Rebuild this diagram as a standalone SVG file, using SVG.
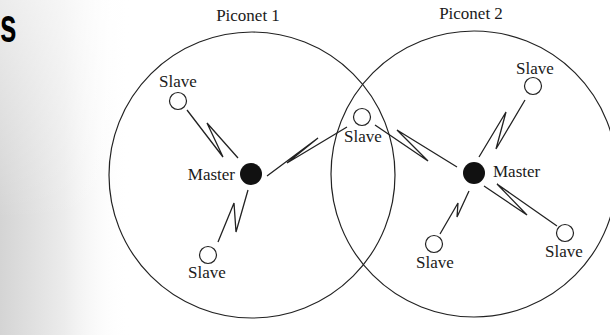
<svg xmlns="http://www.w3.org/2000/svg" width="610" height="335" viewBox="0 0 610 335">
<defs>
<linearGradient id="scan" x1="0" y1="0" x2="1" y2="0">
<stop offset="0" stop-color="#d4d4d4"/>
<stop offset="0.5" stop-color="#ececec"/>
<stop offset="1" stop-color="#ffffff" stop-opacity="0"/>
</linearGradient>
<linearGradient id="scanv" x1="0" y1="0" x2="0" y2="1">
<stop offset="0" stop-color="#ffffff" stop-opacity="0.55"/>
<stop offset="1" stop-color="#ffffff" stop-opacity="0"/>
</linearGradient>
</defs>
<style>
.lbl{font-family:"Liberation Serif","Times New Roman",serif;font-size:17px;fill:#1a1a1a}
.range{fill:none;stroke:#222;stroke-width:1.2}
.slave{fill:#fff;stroke:#222;stroke-width:1.2}
.master{fill:#111}
.link{fill:none;stroke:#222;stroke-width:1.3;stroke-linejoin:miter}
</style>
<rect width="610" height="335" fill="#fff"/>
<rect x="0" y="0" width="130" height="335" fill="url(#scan)"/>
<rect x="0" y="0" width="130" height="220" fill="url(#scanv)"/>
<text x="0" y="42" transform="scale(0.62,1)" font-family="Liberation Sans, Arial, sans-serif" font-weight="bold" font-size="48" fill="#000">s</text>
<g id="piconet1">
<circle class="range" cx="252" cy="175" r="143"/>
<text class="lbl" x="248" y="21" text-anchor="middle">Piconet 1</text>
</g>
<g id="piconet2">
<circle class="range" cx="474" cy="174" r="143"/>
<text class="lbl" x="471" y="19" text-anchor="middle">Piconet 2</text>
</g>
<g id="connectors">
<polyline class="link" points="187,110 223,157 207,123 238,158"/>
<polyline class="link" points="267,176 318,138 287,163 347,127"/>
<polyline class="link" points="375,125 428,161 397,130 457,167"/>
<polyline class="link" points="525,100 496,149 506,112 479,157"/>
<polyline class="link" points="248,190 236,232 234,203 218,242"/>
<polyline class="link" points="469,191 457,217 458,203 440,234"/>
<polyline class="link" points="557,226 497,184 527,215 484,186"/>
</g>
<g id="master1">
<circle class="master" cx="251" cy="174" r="11"/>
<text class="lbl" x="235" y="180" text-anchor="end">Master</text>
</g>
<g id="master2">
<circle class="master" cx="474" cy="173" r="11"/>
<text class="lbl" x="493" y="177">Master</text>
</g>
<g id="slave-p1-top">
<circle class="slave" cx="178" cy="101" r="8.5"/>
<text class="lbl" x="178" y="87" text-anchor="middle">Slave</text>
</g>
<g id="slave-shared">
<circle class="slave" cx="362" cy="117" r="8.5"/>
<text class="lbl" x="363" y="142" text-anchor="middle">Slave</text>
</g>
<g id="slave-p2-top">
<circle class="slave" cx="533" cy="86" r="8.5"/>
<text class="lbl" x="535" y="74" text-anchor="middle">Slave</text>
</g>
<g id="slave-p1-bottom">
<circle class="slave" cx="208" cy="255" r="8.5"/>
<text class="lbl" x="207" y="278" text-anchor="middle">Slave</text>
</g>
<g id="slave-p2-bottom">
<circle class="slave" cx="434" cy="244" r="8.5"/>
<text class="lbl" x="435" y="268" text-anchor="middle">Slave</text>
</g>
<g id="slave-p2-right">
<circle class="slave" cx="565" cy="233" r="8.5"/>
<text class="lbl" x="564" y="257" text-anchor="middle">Slave</text>
</g>
</svg>
